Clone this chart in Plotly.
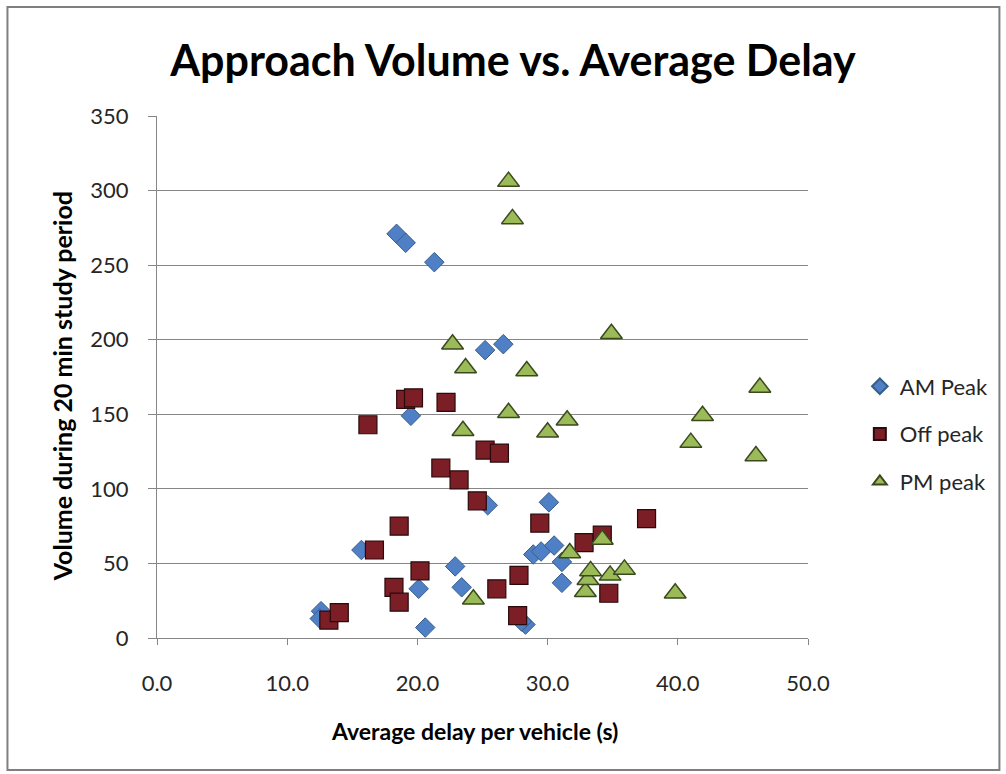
import plotly.graph_objects as go

# ---- data ----
am_x = [12.6, 12.5, 15.7, 18.4, 19.1, 19.5, 20.1, 20.6, 21.3, 22.9, 23.4, 25.2, 26.6, 25.4,
        28.3, 28.0, 28.9, 29.5, 30.1, 30.5, 31.1, 31.1]
am_y = [18, 13, 59, 271, 265, 149, 33, 7, 252, 48, 34, 193, 197, 89,
        9, 11, 56, 58, 91, 62, 51, 37]

off_x = [13.2, 14.0, 16.2, 16.7, 18.2, 18.6, 18.6, 19.1, 19.7, 20.2, 21.8, 22.2, 23.2, 24.6,
         25.2, 26.3, 26.1, 27.7, 27.8, 29.4, 32.8, 34.2, 34.7, 37.6]
off_y = [12, 17, 143, 59, 34, 24, 75, 160, 161, 45, 114, 158, 106, 92,
         126, 124, 33, 15, 42, 77, 64, 69, 30, 80]

pm_x = [22.7, 23.7, 23.5, 24.3, 27.0, 27.3, 27.0, 28.4, 30.0, 31.5, 31.7, 32.9, 33.1, 33.3,
        34.2, 34.8, 35.9, 34.9, 39.8, 41.0, 41.9, 46.0, 46.3]
pm_y = [197, 181, 139, 26, 306, 281, 151, 179, 138, 146, 57, 31, 39, 45,
        66, 42, 46, 204, 30, 131, 149, 122, 168]

x_ticks = [0, 10, 20, 30, 40, 50]
x_tick_labels = ["0.0", "10.0", "20.0", "30.0", "40.0", "50.0"]
y_ticks = [0, 50, 100, 150, 200, 250, 300, 350]

FONT = "Lato, Calibri, Carlito, sans-serif"

fig = go.Figure()
fig.add_trace(go.Scatter(
    x=am_x, y=am_y, mode="markers", name="AM Peak", legendgroup="a",
    marker=dict(symbol="diamond", size=15, color="#4F7FC4",
                line=dict(color="#385D8A", width=1))))
fig.add_trace(go.Scatter(
    x=off_x, y=off_y, mode="markers", name="Off peak", legendgroup="b",
    marker=dict(symbol="square", size=18, color="#7B1E26",
                line=dict(color="#2A0A0C", width=1.2))))
fig.add_trace(go.Scatter(
    x=pm_x, y=pm_y, mode="markers", name="PM peak", legendgroup="c",
    marker=dict(symbol="triangle-up", size=19, color="#9BBB59",
                line=dict(color="#3B4A1E", width=1.5))))

W, H = 1006, 774
L, R, T, B = 157, 196, 116, 136
pw, ph = W - L - R, H - T - B

def px2paper_x(px):
    return (px - L) / pw

def px2paper_y(py):
    return (H - B - py) / ph

fig.update_layout(
    width=W, height=H,
    margin=dict(l=L, r=R, t=T, b=B, pad=0),
    paper_bgcolor="white", plot_bgcolor="white",
    font=dict(family=FONT, color="#262626"),
    title=dict(text="<b>Approach Volume vs. Average Delay</b>",
               x=513 / W, xanchor="center", y=1 - 61 / H, yanchor="middle",
               font=dict(size=43, color="black", family=FONT)),
    showlegend=True,
    legend=dict(x=px2paper_x(862), xanchor="left", y=px2paper_y(434), yanchor="middle",
                font=dict(size=22, color="#262626", family=FONT),
                traceorder="grouped", tracegroupgap=16,
                bgcolor="rgba(0,0,0,0)", itemsizing="constant"),
    xaxis=dict(range=[0, 50], tickvals=x_ticks, ticktext=x_tick_labels,
               showgrid=False, zeroline=False, showline=True, linecolor="#868686",
               linewidth=1, ticks="outside", ticklen=6, tickcolor="#868686",
               tickfont=dict(size=22, color="#262626"), ticklabelstandoff=20,
               fixedrange=True),
    yaxis=dict(range=[0, 350], tickvals=y_ticks,
               showgrid=True, gridcolor="#868686", gridwidth=1,
               zeroline=False, showline=True, linecolor="#868686",
               linewidth=1, ticks="outside", ticklen=8, tickcolor="#868686",
               tickfont=dict(size=22, color="#262626"), ticklabelstandoff=15,
               fixedrange=True),
    annotations=[
        dict(text="<b>Average delay per vehicle (s)</b>", xref="paper", yref="paper",
             x=px2paper_x(475), y=px2paper_y(731), xanchor="center", yanchor="middle",
             showarrow=False, font=dict(size=23, color="black", family=FONT)),
        dict(text="<b>Volume during 20 min study period</b>", xref="paper", yref="paper",
             x=px2paper_x(62), y=px2paper_y(386), xanchor="center", yanchor="middle",
             textangle=-90, showarrow=False,
             font=dict(size=25, color="black", family=FONT)),
    ],
    shapes=[
        dict(type="rect", xref="paper", yref="paper",
             x0=px2paper_x(7), x1=px2paper_x(1002), y0=px2paper_y(770), y1=px2paper_y(7),
             line=dict(color="#7F7F7F", width=2), fillcolor="rgba(0,0,0,0)", layer="below"),
    ],
)

fig.write_html("out.html")
